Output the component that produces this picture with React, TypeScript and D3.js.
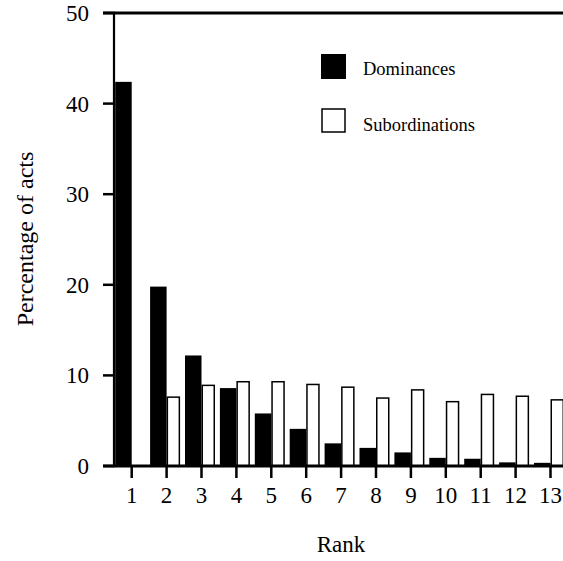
import React from "react";
import * as d3 from "d3";

const ranks = [1, 2, 3, 4, 5, 6, 7, 8, 9, 10, 11, 12, 13];
const dominances = [42.4, 19.8, 12.2, 8.6, 5.8, 4.1, 2.5, 2.0, 1.5, 0.9, 0.8, 0.4, 0.35];
const subordinations = [0, 7.6, 8.9, 9.3, 9.3, 9.0, 8.7, 7.5, 8.4, 7.1, 7.9, 7.7, 7.3];
const yTicks = [0, 10, 20, 30, 40, 50];
const legendLabels = ["Dominances", "Subordinations"];

const W = 563;
const H = 561;
const FONT = "Liberation Serif";

export default function App() {
  const y = d3.scaleLinear().domain([0, 50]).range([466, 13]);
  const x = d3.scalePoint<number>().domain(ranks).range([131.7, 550.5]);
  const axisX = 115;
  const blackW = 16.5;
  const whiteW = 13.5;
  const ts = { fontFamily: FONT };

  return (
    <svg
      width={W}
      height={H}
      style={{ position: "absolute", left: 0, top: 0, display: "block", background: "#fff", fontFamily: FONT }}
    >
      {/* bars */}
      {ranks.map((r, i) => {
        const t = x(r)!;
        return (
          <g key={r}>
            <rect
              x={t - blackW}
              y={y(dominances[i])}
              width={blackW}
              height={y(0) - y(dominances[i])}
              fill="#000"
            />
            {subordinations[i] > 0 && (
              <rect
                x={t + 0.75}
                y={y(subordinations[i])}
                width={whiteW - 1.5}
                height={y(0) - y(subordinations[i])}
                fill="#fff"
                stroke="#000"
                strokeWidth={1.5}
              />
            )}
          </g>
        );
      })}

      {/* top frame line */}
      <line x1={103} x2={W} y1={y(50)} y2={y(50)} stroke="#000" strokeWidth={3} />
      {/* y axis */}
      <line x1={axisX - 1} x2={axisX - 1} y1={y(50)} y2={y(0)} stroke="#000" strokeWidth={2.2} />
      {/* x axis */}
      <line x1={103} x2={W} y1={y(0)} y2={y(0)} stroke="#000" strokeWidth={3} />

      {/* y ticks */}
      {yTicks.map((v) => (
        <g key={v}>
          <line x1={103} x2={axisX} y1={y(v)} y2={y(v)} stroke="#000" strokeWidth={2.5} />
          <text x={89} y={y(v) + 8} textAnchor="end" fontSize={23} fill="#000" style={ts}>
            {v}
          </text>
        </g>
      ))}

      {/* x ticks */}
      {ranks.map((r) => (
        <g key={r}>
          <line x1={x(r)!} x2={x(r)!} y1={y(0)} y2={478} stroke="#000" strokeWidth={2.5} />
          <text x={x(r)!} y={503} textAnchor="middle" fontSize={23} fill="#000" style={ts}>
            {r}
          </text>
        </g>
      ))}

      {/* axis titles */}
      <text x={341} y={552} textAnchor="middle" fontSize={23} fill="#000" style={ts}>
        Rank
      </text>
      <text
        transform={`translate(33,239) rotate(-90)`}
        textAnchor="middle"
        fontSize={24}
        fill="#000"
        style={ts}
      >
        Percentage of acts
      </text>

      {/* legend */}
      <rect x={321} y={54} width={25} height={25} fill="#000" />
      <text x={363} y={75} fontSize={18.5} fill="#000" style={ts}>
        {legendLabels[0]}
      </text>
      <rect x={322} y={109} width={23} height={23} fill="#fff" stroke="#000" strokeWidth={1.5} />
      <text x={363} y={131} fontSize={18.5} fill="#000" style={ts}>
        {legendLabels[1]}
      </text>
    </svg>
  );
}
